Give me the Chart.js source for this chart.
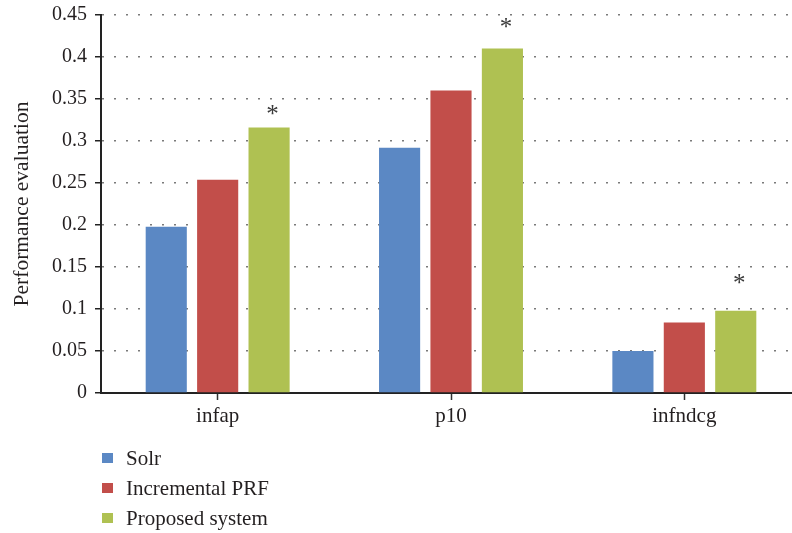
<!DOCTYPE html>
<html>
<head>
<meta charset="utf-8">
<script src="https://cdn.jsdelivr.net/npm/chart.js@4.4.1/dist/chart.umd.min.js"></script>
<style>
  html, body { margin: 0; padding: 0; background: #ffffff; overflow: hidden; }
  #wrap { width: 792px; height: 533px; position: relative; overflow: hidden; }
</style>
</head>
<body>
<div id="wrap"><canvas id="c" width="801" height="533"></canvas></div>
<script>
// ---- data ----
const categories = ['infap', 'p10', 'infndcg'];
const seriesNames = ['Solr', 'Incremental PRF', 'Proposed system'];
const solrValues = [0.198, 0.292, 0.050];
const incrementalPrfValues = [0.254, 0.360, 0.084];
const proposedSystemValues = [0.316, 0.410, 0.098];
const significanceMarks = ['*', '*', '*'];          // marks above "Proposed system" bars
const significanceMarkLevels = [0.338, 0.442, 0.137]; // value level where each mark sits
const yTickValues = [0, 0.05, 0.1, 0.15, 0.2, 0.25, 0.3, 0.35, 0.4, 0.45];
const yTickLabels = ['0', '0.05', '0.1', '0.15', '0.2', '0.25', '0.3', '0.35', '0.4', '0.45'];
const yAxisTitle = 'Performance evaluation';

// ---- styles ----
const colors = ['#5B88C4', '#C24E4A', '#AFC152'];
const FONT = "'Liberation Serif', 'DejaVu Serif', serif";
const TEXT = '#231f20';

const asteriskPlugin = {
  id: 'asterisks',
  afterDatasetsDraw(chart) {
    const meta = chart.getDatasetMeta(2);
    const yScale = chart.scales.y;
    const ctx = chart.ctx;
    ctx.save();
    ctx.font = '25px ' + FONT;
    ctx.fillStyle = '#3a3a3a';
    ctx.textAlign = 'center';
    ctx.textBaseline = 'alphabetic';
    meta.data.forEach((bar, i) => {
      if (!significanceMarks[i]) return;
      const y = yScale.getPixelForValue(significanceMarkLevels[i]);
      ctx.fillText(significanceMarks[i], bar.x + 3.5, y + 13);
    });
    ctx.restore();
  }
};

const legendPlugin = {
  id: 'vlegend',
  afterDraw(chart) {
    const ctx = chart.ctx;
    ctx.save();
    ctx.font = '21px ' + FONT;
    ctx.textBaseline = 'middle';
    ctx.textAlign = 'left';
    seriesNames.forEach((name, i) => {
      const cy = 458 + i * 30;
      ctx.fillStyle = colors[i];
      ctx.fillRect(102, cy - 5, 11, 10);
      ctx.fillStyle = TEXT;
      ctx.fillText(name, 126, cy + 1);
    });
    ctx.restore();
  }
};

new Chart(document.getElementById('c'), {
  type: 'bar',
  data: {
    labels: categories,
    datasets: [
      { label: seriesNames[0], data: solrValues, backgroundColor: colors[0] },
      { label: seriesNames[1], data: incrementalPrfValues, backgroundColor: colors[1] },
      { label: seriesNames[2], data: proposedSystemValues, backgroundColor: colors[2] }
    ]
  },
  options: {
    responsive: false,
    animation: false,
    devicePixelRatio: 1,
    layout: { padding: { left: 0, top: 15, right: 0, bottom: 98 } },
    datasets: { bar: { categoryPercentage: 0.661, barPercentage: 0.8 } },
    plugins: {
      legend: { display: false },
      tooltip: { enabled: false }
    },
    scales: {
      x: {
        grid: { display: true, drawOnChartArea: false, drawTicks: true, offset: false,
                tickLength: 7, tickColor: '#333', tickWidth: 1.5 },
        border: { display: true, color: '#222', width: 2 },
        ticks: { color: TEXT, font: { family: FONT, size: 21 }, padding: 4 },
        afterFit(scale) { scale.height = 42; }
      },
      y: {
        min: 0, max: 0.45,
        afterBuildTicks(scale) { scale.ticks = yTickValues.map(v => ({ value: v })); },
        ticks: {
          color: TEXT, font: { family: FONT, size: 20, lineHeight: 0.6 }, padding: 8,
          callback: (v, i) => yTickLabels[i]
        },
        grid: { color: '#7a7a7a', lineWidth: 1.5, drawTicks: true, tickLength: 6,
                tickColor: '#222', tickWidth: 1.5, tickBorderDash: [] },
        border: { display: true, color: '#222', width: 2, dash: [2, 10], dashOffset: 0 },
        title: { display: true, text: yAxisTitle, color: TEXT,
                 font: { family: FONT, size: 21.5 }, padding: { top: 9, bottom: 0 } },
        afterFit(scale) { scale.width = 101; }
      }
    }
  },
  plugins: [asteriskPlugin, legendPlugin]
});
</script>
</body>
</html>
